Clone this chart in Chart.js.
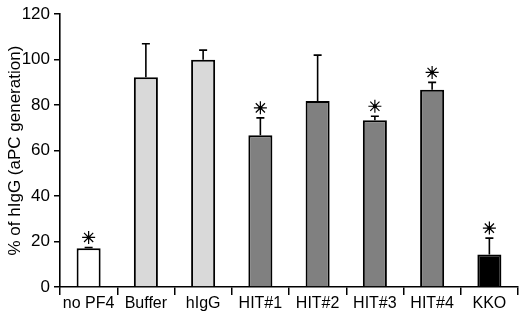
<!DOCTYPE html>
<html>
<head>
<meta charset="utf-8">
<script src="https://cdn.jsdelivr.net/npm/chart.js@4"></script>
<style>
  body { margin: 0; background: #fff; }
  canvas { display: block; }
</style>
</head>
<body>
<canvas id="chart" width="520" height="313"></canvas>
<script>
// data
const labels = ['no PF4', 'Buffer', 'hIgG', 'HIT#1', 'HIT#2', 'HIT#3', 'HIT#4', 'KKO'];
const means = [17, 92.3, 100, 66.8, 81.8, 73.4, 86.8, 14.3];
const errUp = [0.4, 14.7, 4.2, 7.6, 20.2, 1.7, 3.2, 7.2];
const signif = [true, false, false, true, false, true, true, true];
const barColors = ['#ffffff', '#d9d9d9', '#d9d9d9', '#808080', '#808080', '#808080', '#808080', '#000000'];
const yTicks = [0, 20, 40, 60, 80, 100, 120];

Chart.defaults.font.family = 'Arial, "Liberation Sans", sans-serif';
Chart.defaults.color = '#000';

// error bars (upward only) and asterisks
const errorBars = {
  id: 'errorBars',
  afterDatasetsDraw(chart) {
    const ctx = chart.ctx;
    const y = chart.scales.y;
    const meta = chart.getDatasetMeta(0);
    ctx.save();
    ctx.strokeStyle = '#000';
    ctx.fillStyle = '#000';
    meta.data.forEach((bar, i) => {
      const x = bar.x;
      const yTop = y.getPixelForValue(means[i]);
      const yErr = y.getPixelForValue(means[i] + errUp[i]);
      ctx.lineWidth = 1.6;
      ctx.beginPath();
      ctx.moveTo(x, yTop);
      ctx.lineTo(x, yErr);
      ctx.moveTo(x - 4, yErr);
      ctx.lineTo(x + 4, yErr);
      ctx.stroke();
      if (signif[i]) {
        const cy = yErr - 10;
        const r = 6.5;
        ctx.lineWidth = 1.2;
        ctx.beginPath();
        for (let k = 0; k < 4; k++) {
          const a = k * Math.PI / 4;
          ctx.moveTo(x - r * Math.sin(a), cy - r * Math.cos(a));
          ctx.lineTo(x + r * Math.sin(a), cy + r * Math.cos(a));
        }
        ctx.stroke();
        ctx.beginPath();
        ctx.arc(x, cy, 2, 0, Math.PI * 2);
        ctx.fill();
      }
    });
    ctx.restore();
  }
};

new Chart(document.getElementById('chart'), {
  type: 'bar',
  data: {
    labels,
    datasets: [{
      data: means,
      backgroundColor: barColors,
      borderColor: '#000',
      borderWidth: 2,
      borderSkipped: 'bottom',
      barPercentage: 0.42,
      categoryPercentage: 1
    }]
  },
  options: {
    responsive: false,
    animation: false,
    devicePixelRatio: 1,
    layout: { padding: { top: 12, right: 2, left: 0, bottom: 0 } },
    plugins: {
      legend: { display: false },
      tooltip: { enabled: false }
    },
    scales: {
      x: {
        grid: {
          display: true,
          drawOnChartArea: false,
          drawTicks: true,
          tickLength: 8,
          color: '#000',
          lineWidth: 1.5
        },
        border: { color: '#000', width: 1.6 },
        ticks: { font: { size: 16 }, padding: -1, maxRotation: 0 },
        afterFit: (s) => { s.height = 26; }
      },
      y: {
        min: 0,
        max: 120,
        afterBuildTicks: (s) => { s.ticks = yTicks.map((v) => ({ value: v })); },
        grid: {
          display: true,
          drawOnChartArea: false,
          drawTicks: true,
          tickLength: 6,
          color: '#000',
          lineWidth: 1.5
        },
        border: { color: '#000', width: 1.6 },
        ticks: { font: { size: 17 }, padding: 4 },
        title: {
          display: true,
          text: '% of hIgG (aPC generation)',
          font: { size: 17 },
          padding: { top: 5, bottom: 0 }
        },
        afterFit: (s) => { s.width = 60; }
      }
    }
  },
  plugins: [errorBars]
});
</script>
</body>
</html>
